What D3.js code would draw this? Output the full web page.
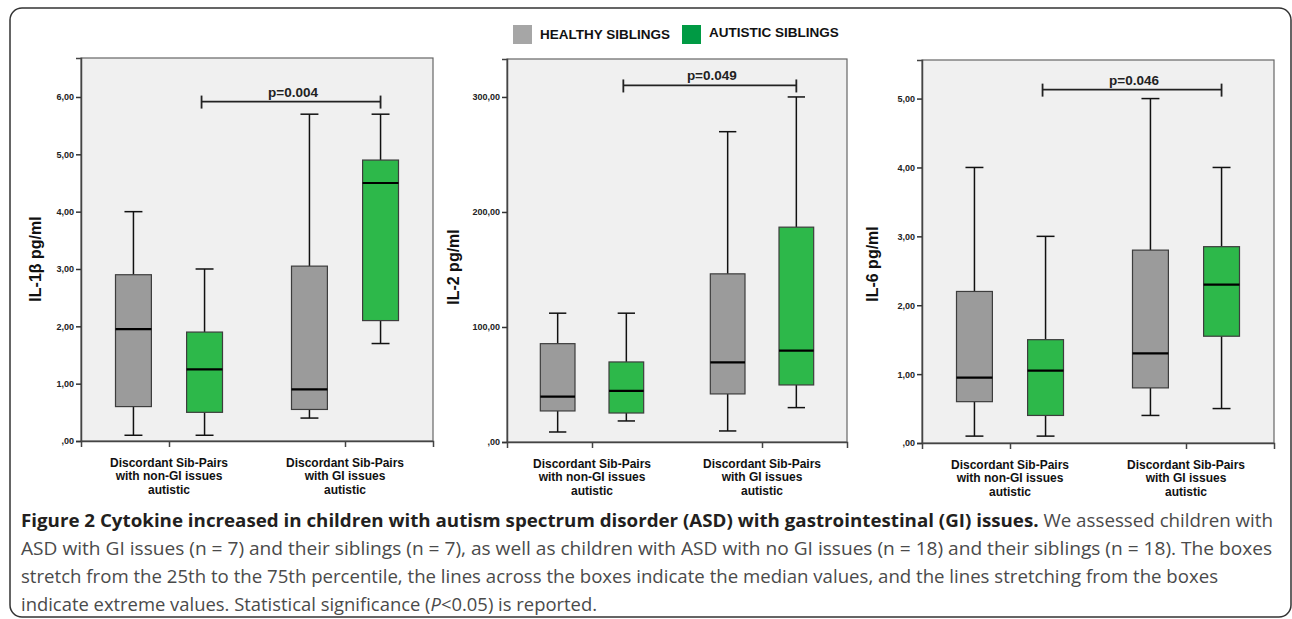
<!DOCTYPE html>
<html>
<head>
<meta charset="utf-8">
<script src="https://cdn.jsdelivr.net/npm/d3@7.9.0/dist/d3.min.js"></script>
<style>
  body { margin: 0; background: #fff; }
  svg { display: block; }
</style>
</head>
<body>
<svg id="chart" width="1292" height="619"></svg>
<script>
// groups on the x axis, and the two series
const groups = [
  ["Discordant Sib-Pairs", "with non-GI issues", "autistic"],
  ["Discordant Sib-Pairs", "with GI issues", "autistic"]
];
const series = ["HEALTHY SIBLINGS", "AUTISTIC SIBLINGS"];

// box stats per group: [min, q1, median, q3, max]
const il1bHealthy = [[0.1, 0.6, 1.95, 2.9, 4.0], [0.4, 0.55, 0.9, 3.05, 5.7]];
const il1bAutistic = [[0.1, 0.5, 1.25, 1.9, 3.0], [1.7, 2.1, 4.5, 4.9, 5.7]];
const il2Healthy = [[8.7, 27, 39.4, 85.5, 112], [9.6, 41.8, 69.3, 146.2, 269.8]];
const il2Autistic = [[18.3, 25.2, 44.4, 69.6, 112], [29.9, 49.6, 79.5, 186.8, 300]];
const il6Healthy = [[0.1, 0.6, 0.95, 2.2, 4.0], [0.4, 0.8, 1.3, 2.8, 5.0]];
const il6Autistic = [[0.1, 0.4, 1.05, 1.5, 3.0], [0.5, 1.55, 2.3, 2.85, 4.0]];

const yLabels = ["IL-1β pg/ml", "IL-2 pg/ml", "IL-6 pg/ml"];
const yMaxes = [6.68, 333, 5.56];
const yTicks = [[0, 1, 2, 3, 4, 5, 6], [0, 100, 200, 300], [0, 1, 2, 3, 4, 5]];
const pLabels = ["p=0.004", "p=0.049", "p=0.046"];
const pLevels = [5.92, 310, 5.13];

const COLORS = { healthy: "#9b9b9b", autistic: "#2db84a", legendHealthy: "#a6a6a6", legendAutistic: "#009a44" };

// frame of each panel
const PANELS = [
  { x0: 81, x1: 433, y0: 58, y1: 441, labelX: 35, labelY: 259 },
  { x0: 507, x1: 847, y0: 59, y1: 442, labelX: 453, labelY: 267 },
  { x0: 922, x1: 1274, y0: 60, y1: 443, labelX: 872, labelY: 264 }
];

const panelData = [
  [il1bHealthy, il1bAutistic],
  [il2Healthy, il2Autistic],
  [il6Healthy, il6Autistic]
];

const svg = d3.select("#chart");

// outer rounded border
svg.append("rect")
  .attr("x", 10).attr("y", 8)
  .attr("width", 1281).attr("height", 609)
  .attr("rx", 12)
  .attr("fill", "none")
  .attr("stroke", "#333")
  .attr("stroke-width", 1.5);

const fmt = v => {
  const s = d3.format(".2f")(v).replace(".", ",");
  return s.startsWith("0,") ? s.slice(1) : s;
};

PANELS.forEach((p, i) => {
  const g = svg.append("g");
  const w = p.x1 - p.x0;

  const x = d3.scalePoint().domain(d3.range(groups.length)).range([p.x0, p.x1]).padding(0.5);
  const off = d3.scalePoint().domain(series).range([-w * 0.101, w * 0.101]);
  const boxW = w * 0.102;
  const y = d3.scaleLinear().domain([0, yMaxes[i]]).range([p.y1, p.y0]);

  g.append("rect")
    .attr("x", p.x0).attr("y", p.y0)
    .attr("width", w).attr("height", p.y1 - p.y0)
    .attr("fill", "#f0f0f0")
    .attr("stroke", "#666")
    .attr("stroke-width", 1.2);

  // y axis
  const yAxis = g.append("g")
    .attr("transform", `translate(${p.x0},0)`)
    .call(d3.axisLeft(y).tickValues(yTicks[i]).tickFormat(fmt).tickSize(5).tickPadding(2));
  yAxis.select(".domain").attr("stroke", "#444").attr("stroke-width", 1.5);
  yAxis.selectAll(".tick line").attr("stroke", "#333").attr("stroke-width", 1.5);
  yAxis.selectAll("text")
    .attr("font-family", "Liberation Sans, Arial, sans-serif")
    .attr("font-size", 9)
    .attr("font-weight", "bold")
    .attr("fill", "#222");

  // x axis
  const xAxis = g.append("g")
    .attr("transform", `translate(0,${p.y1})`)
    .call(d3.axisBottom(x).tickSize(6).tickFormat(""));
  xAxis.select(".domain").attr("stroke", "#444").attr("stroke-width", 1.5);
  xAxis.selectAll(".tick line").attr("stroke", "#444").attr("stroke-width", 1.5);

  groups.forEach((lines, gi) => {
    const t = g.append("text")
      .attr("x", x(gi))
      .attr("y", p.y1 + 26)
      .attr("text-anchor", "middle")
      .attr("font-family", "Liberation Sans, Arial, sans-serif")
      .attr("font-size", 12)
      .attr("font-weight", "bold")
      .attr("fill", "#111");
    lines.forEach((ln, li) => {
      t.append("tspan").attr("x", x(gi)).attr("dy", li === 0 ? 0 : 13.3).text(ln);
    });
  });

  // y label
  g.append("text")
    .attr("transform", `translate(${p.labelX + 6},${p.labelY}) rotate(-90)`)
    .attr("text-anchor", "middle")
    .attr("font-family", "Liberation Sans, Arial, sans-serif")
    .attr("font-size", 16)
    .attr("font-weight", "bold")
    .attr("fill", "#111")
    .text(yLabels[i]);

  // boxes
  series.forEach((s, si) => {
    const stats = panelData[i][si];
    const fill = si === 0 ? COLORS.healthy : COLORS.autistic;
    stats.forEach((d, gi) => {
      const cx = x(gi) + off(s);
      const [mn, q1, med, q3, mx] = d;
      const bg = g.append("g");
      bg.append("line")
        .attr("x1", cx).attr("x2", cx)
        .attr("y1", y(mx)).attr("y2", y(q3))
        .attr("stroke", "#111").attr("stroke-width", 1.5);
      bg.append("line")
        .attr("x1", cx).attr("x2", cx)
        .attr("y1", y(q1)).attr("y2", y(mn))
        .attr("stroke", "#111").attr("stroke-width", 1.5);
      [mn, mx].forEach(v => {
        bg.append("line")
          .attr("x1", cx - boxW / 4).attr("x2", cx + boxW / 4)
          .attr("y1", y(v)).attr("y2", y(v))
          .attr("stroke", "#111").attr("stroke-width", 1.5);
      });
      bg.append("rect")
        .attr("x", cx - boxW / 2).attr("y", y(q3))
        .attr("width", boxW).attr("height", y(q1) - y(q3))
        .attr("fill", fill)
        .attr("stroke", "#3d3d3d")
        .attr("stroke-width", 1.2);
      bg.append("line")
        .attr("x1", cx - boxW / 2).attr("x2", cx + boxW / 2)
        .attr("y1", y(med)).attr("y2", y(med))
        .attr("stroke", "#000").attr("stroke-width", 2.2);
    });
  });

  // significance bracket between autistic boxes
  const bx0 = x(0) + off(series[1]) - 3;
  const bx1 = x(1) + off(series[1]);
  const by = y(pLevels[i]);
  const br = g.append("g").attr("stroke", "#222").attr("stroke-width", 1.8);
  br.append("line").attr("x1", bx0).attr("x2", bx1).attr("y1", by).attr("y2", by);
  br.append("line").attr("x1", bx0).attr("x2", bx0).attr("y1", by - 6).attr("y2", by + 7);
  br.append("line").attr("x1", bx1).attr("x2", bx1).attr("y1", by - 6).attr("y2", by + 7);
  g.append("text")
    .attr("x", (bx0 + bx1) / 2 + 2)
    .attr("y", by - 5)
    .attr("text-anchor", "middle")
    .attr("font-family", "Liberation Sans, Arial, sans-serif")
    .attr("font-size", 13.5)
    .attr("font-weight", "bold")
    .attr("fill", "#222")
    .text(pLabels[i]);
});

// legend
const legendItems = [
  { label: series[0], color: COLORS.legendHealthy, x: 513, ty: 38.5 },
  { label: series[1], color: COLORS.legendAutistic, x: 682, ty: 37 }
];
legendItems.forEach(item => {
  svg.append("rect")
    .attr("x", item.x).attr("y", 25)
    .attr("width", 19).attr("height", 19)
    .attr("fill", item.color);
  svg.append("text")
    .attr("x", item.x + 27).attr("y", item.ty)
    .attr("font-family", "Liberation Sans, Arial, sans-serif")
    .attr("font-size", 13.5)
    .attr("font-weight", "bold")
    .attr("fill", "#111")
    .text(item.label);
});

// caption
const caption = svg.append("g")
  .attr("font-family", "Open Sans, sans-serif")
  .attr("font-size", 18.5);
const capLines = [
  [["b", "Figure 2 Cytokine increased in children with autism spectrum disorder (ASD) with gastrointestinal (GI) issues."], ["r", " We assessed children with"]],
  [["r", "ASD with GI issues (n = 7) and their siblings (n = 7), as well as children with ASD with no GI issues (n = 18) and their siblings (n = 18). The boxes"]],
  [["r", "stretch from the 25th to the 75th percentile, the lines across the boxes indicate the median values, and the lines stretching from the boxes"]],
  [["r", "indicate extreme values. Statistical significance ("], ["i", "P"], ["r", "<0.05) is reported."]]
];
// right end of each caption line in the reference
const capEnds = [1273, 1272, 1218, 597];
capLines.forEach((parts, li) => {
  const t = caption.append("text").attr("x", 21).attr("y", 527 + li * 28)
    .attr("textLength", capEnds[li] - 21)
    .attr("lengthAdjust", "spacingAndGlyphs");
  parts.forEach(([k, s]) => {
    t.append("tspan")
      .attr("font-weight", k === "b" ? "bold" : "normal")
      .attr("font-style", k === "i" ? "italic" : "normal")
      .attr("fill", k === "b" ? "#231f20" : "#4a4a4a")
      .text(s);
  });
});
</script>
</body>
</html>
